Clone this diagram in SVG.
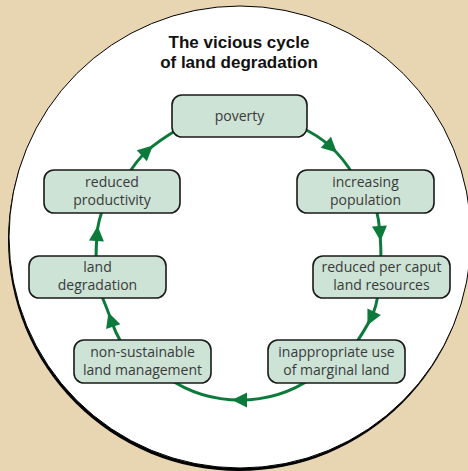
<svg xmlns="http://www.w3.org/2000/svg" width="468" height="471" viewBox="0 0 468 471">
<style>
.box{fill:#cce3d6;stroke:#1a1a1a;stroke-width:1.6}
.lbl{font-family:"Open Sans","Liberation Sans",sans-serif;font-size:14px;fill:#3a3a3a;text-anchor:middle}
.title{font-family:"Liberation Sans",Arial,sans-serif;font-size:17px;font-weight:bold;fill:#111;text-anchor:middle}
.conn{fill:none;stroke:#0b7a3a;stroke-width:3;marker-mid:url(#arr)}
</style>
<defs>
<marker id="arr" markerUnits="userSpaceOnUse" viewBox="-10 -10 20 20" markerWidth="20" markerHeight="20" refX="0" refY="0" orient="auto" overflow="visible">
<path d="M -7 -7.5 L 8 0 L -7 7.5 Z" fill="#0b7a3a"/>
</marker>
</defs>
<rect x="0" y="0" width="468" height="471" fill="#e8d6b2"/>
<circle cx="239" cy="240" r="231" fill="#000"/>
<circle cx="240" cy="237" r="231" fill="#fff" stroke="#000" stroke-width="1"/>
<text class="title" x="239" y="48">The vicious cycle</text>
<text class="title" x="239" y="68">of land degradation</text>
<g id="connectors">
<path class="conn" d="M 300 127 Q 318 135 331 147 T 354 176"/>
<path class="conn" d="M 376 208 Q 379 220 380 233 T 381 262"/>
<path class="conn" d="M 378 292 Q 377 306 371 318 T 354 346"/>
<path class="conn" d="M 312 378 Q 280 400 240 400 T 168 378"/>
<path class="conn" d="M 122 344 Q 115 332 111 320 T 100 292"/>
<path class="conn" d="M 96 262 Q 96 247 97 234 T 104 206"/>
<path class="conn" d="M 128 175 Q 136 161 147 151 T 180 128"/>
</g>
<g id="poverty">
<rect class="box" x="172" y="95" width="135" height="42" rx="10"/>
<text class="lbl" x="239.5" y="121">poverty</text>
</g>
<g id="increasing-population">
<rect class="box" x="297" y="170" width="137" height="43" rx="10"/>
<text class="lbl" x="365.5" y="186.5">increasing</text>
<text class="lbl" x="365.5" y="204.5">population</text>
</g>
<g id="reduced-per-caput">
<rect class="box" x="313" y="256" width="137" height="42" rx="10"/>
<text class="lbl" x="381.5" y="272">reduced per caput</text>
<text class="lbl" x="381.5" y="290">land resources</text>
</g>
<g id="inappropriate-use">
<rect class="box" x="268" y="340" width="137" height="43" rx="10"/>
<text class="lbl" x="336.5" y="356.5">inappropriate use</text>
<text class="lbl" x="336.5" y="374.5">of marginal land</text>
</g>
<g id="non-sustainable">
<rect class="box" x="74" y="340" width="137" height="43" rx="10"/>
<text class="lbl" x="142.5" y="356.5">non-sustainable</text>
<text class="lbl" x="142.5" y="374.5">land management</text>
</g>
<g id="land-degradation">
<rect class="box" x="29" y="256" width="137" height="42" rx="10"/>
<text class="lbl" x="97.5" y="272">land</text>
<text class="lbl" x="97.5" y="290">degradation</text>
</g>
<g id="reduced-productivity">
<rect class="box" x="44" y="170" width="136" height="43" rx="10"/>
<text class="lbl" x="112" y="186.5">reduced</text>
<text class="lbl" x="112" y="204.5">productivity</text>
</g>
</svg>
